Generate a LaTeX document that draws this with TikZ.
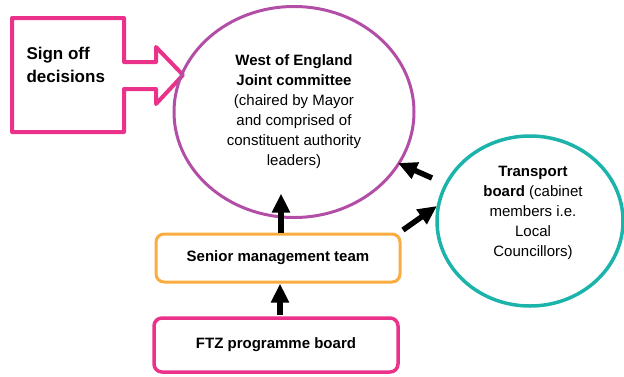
\documentclass[tikz,border=0pt]{standalone}
\usepackage{fontspec}
\setmainfont{Liberation Sans}
\usetikzlibrary{shapes.geometric,arrows.meta,calc}
\definecolor{signpink}{RGB}{234,50,138}
\definecolor{woepurple}{RGB}{178,78,166}
\definecolor{tbteal}{RGB}{28,180,170}
\definecolor{smtorange}{RGB}{251,172,64}
\tikzset{
  bodytext/.style={font=\fontsize{15}{20}\selectfont, align=center, text=black},
  roundbox/.style={rectangle, rounded corners=8pt, minimum width=244pt,
    font=\bfseries\fontsize{15}{20}\selectfont},
  bigarrow/.style={line width=5.5pt, -{Triangle[width=17pt,length=19pt]}, black}
}
\begin{document}
\begin{tikzpicture}[x=1pt,y=-1pt]
\useasboundingbox (0,0) rectangle (624,376);

% block arrow pointing into the committee
\draw[signpink, line width=4pt, line join=round]
  (12,18) -- (124,18) -- (124,62) -- (156,62) -- (156,47) -- (183,75)
  -- (156,104) -- (156,89) -- (124,89) -- (124,132) -- (12,132) -- cycle;
\node[anchor=west, align=left, font=\bfseries\fontsize{17}{23}\selectfont]
  (signtext) at (23,64.5) {Sign off\\decisions};

% joint committee
\node[ellipse, draw=woepurple, line width=3pt, minimum width=240pt,
  minimum height=211pt, bodytext] (woe) at (294,112)
  {\textbf{West of England}\\\textbf{Joint committee}\\(chaired by Mayor\\and comprised of\\constituent authority\\leaders)};

% transport board
\node[ellipse, draw=tbteal, line width=3.5pt, minimum width=186pt,
  minimum height=170pt] (tb) at (530,221) {};
\node[bodytext] (tbtext) at (533,213)
  {\textbf{Transport}\\\textbf{board} (cabinet\\members i.e.\\Local\\Councillors)};

% boxes
\node[roundbox, draw=smtorange, line width=3pt, minimum height=48pt]
  (smt) at (278,258) {Senior management team};
\node[roundbox, draw=signpink, line width=3.5pt, minimum height=54pt]
  (ftz) at (276,345) {FTZ programme board};

% connector end points
\coordinate (tbout) at (432,178);
\coordinate (woein) at (398,163);
\coordinate (smtout) at (403,230);
\coordinate (tbin) at (437,206);

% connectors
\draw[bigarrow] ($(smt.north)+(3,0)$) -- ($(smt.north)+(3,-39)$);
\draw[bigarrow] ($(ftz.north)+(4,-1)$) -- ($(smt.south)+(2,0)$);
\draw[bigarrow] (tbout) -- (woein);
\draw[bigarrow] (smtout) -- (tbin);
\end{tikzpicture}
\end{document}
